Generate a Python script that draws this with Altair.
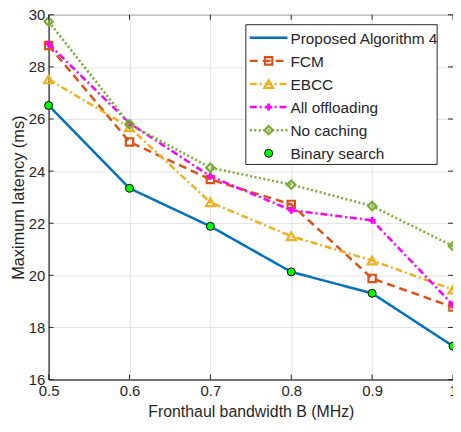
import altair as alt
import pandas as pd

# ---- data ----
B = [0.5, 0.6, 0.7, 0.8, 0.9, 1.0]
proposed = [26.52, 23.34, 21.88, 20.13, 19.31, 17.28]
fcm = [28.82, 25.12, 23.68, 22.72, 19.88, 18.78]
ebcc = [27.52, 25.68, 22.80, 21.50, 20.57, 19.45]
all_offloading = [28.88, 25.84, 23.80, 22.50, 22.11, 18.86]
no_caching = [29.74, 25.80, 24.13, 23.48, 22.66, 21.12]
binary_search = [26.52, 23.34, 21.88, 20.13, 19.31, 17.28]

x_ticks = [0.5, 0.6, 0.7, 0.8, 0.9, 1.0]
y_ticks = [16, 18, 20, 22, 24, 26, 28, 30]

W, H = 408, 368
FONT = "Liberation Sans"
TXT = "#262626"

xs = alt.Scale(domain=[0.5, 1.0], nice=False, zero=False)
ys = alt.Scale(domain=[16, 30], nice=False, zero=False)

X = alt.X("B:Q", scale=xs,
          axis=alt.Axis(values=x_ticks, format=".1~f", title="Fronthaul bandwidth B (MHz)",
                        ticks=False, labelPadding=4, titlePadding=5, grid=True,
                        labelFlush=False, labelOverlap=False, titleFontSize=16))
Y = alt.Y("v:Q", scale=ys,
          axis=alt.Axis(values=y_ticks, title="Maximum latency (ms)", ticks=False,
                        labelPadding=4, titlePadding=2, grid=True,
                        labelFlush=False, labelOverlap=False))

series = [
    # name, values, color, dash, shape, filled, size
    ("Proposed Algorithm 4", proposed, "#0072BD", [1, 0], None, False, 0),
    ("FCM", fcm, "#D95319", [8, 5], "square", False, 55),
    ("EBCC", ebcc, "#EDB120", [7, 3, 2, 3], "triangle-up", False, 80),
    ("All offloading", all_offloading, "#FF00FF", [7, 3, 2, 3], "cross", True, 50),
    ("No caching", no_caching, "#77AC30", [2, 2.5], "diamond", False, 70),
]

layers = []
for name, vals, col, dash, shape, filled, size in series:
    df = pd.DataFrame({"B": B, "v": vals})
    base = alt.Chart(df)
    layers.append(base.mark_line(color=col, strokeWidth=2.5, strokeDash=dash).encode(x=X, y=Y))
    if shape:
        if filled:
            layers.append(base.mark_point(shape=shape, filled=True, color=col, size=size,
                                          opacity=1).encode(x=X, y=Y))
        else:
            layers.append(base.mark_point(shape=shape, filled=False, color=col, size=size,
                                          strokeWidth=2.2, opacity=1).encode(x=X, y=Y))

bs = pd.DataFrame({"B": B, "v": binary_search})
layers.append(alt.Chart(bs).mark_point(shape="circle", filled=True, fill="#00FF00", stroke="black",
                                       strokeWidth=1, size=65, opacity=1).encode(x=X, y=Y))

# inward ticks on all four sides
xt = pd.DataFrame({"B": x_ticks})
yt = pd.DataFrame({"v": y_ticks})
layers.append(alt.Chart(xt).mark_rule(color=TXT, strokeWidth=1).encode(
    x=alt.X("B:Q", scale=xs), y=alt.value(H), y2=alt.value(H - 5)))
layers.append(alt.Chart(xt).mark_rule(color=TXT, strokeWidth=1).encode(
    x=alt.X("B:Q", scale=xs), y=alt.value(0), y2=alt.value(5)))
layers.append(alt.Chart(yt).mark_rule(color=TXT, strokeWidth=1).encode(
    y=alt.Y("v:Q", scale=ys), x=alt.value(0), x2=alt.value(5)))
layers.append(alt.Chart(yt).mark_rule(color=TXT, strokeWidth=1).encode(
    y=alt.Y("v:Q", scale=ys), x=alt.value(W), x2=alt.value(W - 5)))

# ---- legend box ----
one = pd.DataFrame({"a": [0]})
lx0, lx1, ly0, ly1 = 199, 392, 10, 151
layers.append(alt.Chart(one).mark_rect(fill="white", stroke=TXT, strokeWidth=1).encode(
    x=alt.value(lx0), x2=alt.value(lx1), y=alt.value(ly0), y2=alt.value(ly1)))

legend_items = series + [("Binary search", None, "#00FF00", None, "circle", True, 65)]
for i, (name, vals, col, dash, shape, filled, size) in enumerate(legend_items):
    yy = 23.2 + i * 23.3
    if dash is not None:
        layers.append(alt.Chart(one).mark_rule(color=col, strokeWidth=2.5, strokeDash=dash).encode(
            x=alt.value(203), x2=alt.value(241), y=alt.value(yy)))
    if shape:
        if name == "Binary search":
            m = alt.Chart(one).mark_point(shape="circle", filled=True, fill="#00FF00", stroke="black",
                                          strokeWidth=1, size=size, opacity=1)
        elif filled:
            m = alt.Chart(one).mark_point(shape=shape, filled=True, color=col, size=size, opacity=1)
        else:
            m = alt.Chart(one).mark_point(shape=shape, filled=False, color=col, size=size,
                                          strokeWidth=2.2, opacity=1)
        layers.append(m.encode(x=alt.value(222), y=alt.value(yy)))
    layers.append(alt.Chart(one).mark_text(align="left", baseline="middle", font=FONT, fontSize=15.5,
                                           color=TXT).encode(
        x=alt.value(244), y=alt.value(yy + 1), text=alt.value(name)))

chart = alt.layer(*layers).properties(
    width=W, height=H,
    autosize=alt.AutoSizeParams(type="none"),
    padding={"left": 41, "top": 5, "right": 0, "bottom": 40},
).configure_view(stroke=TXT, strokeWidth=1).configure_axis(
    labelFont=FONT, titleFont=FONT, labelFontSize=15, titleFontSize=16.5,
    labelColor=TXT, titleColor=TXT, titleFontWeight="normal",
    gridColor="#e3e3e3", gridWidth=1, domainColor=TXT,
)

chart.save("out.html", embed_options={"renderer": "svg", "actions": False})
